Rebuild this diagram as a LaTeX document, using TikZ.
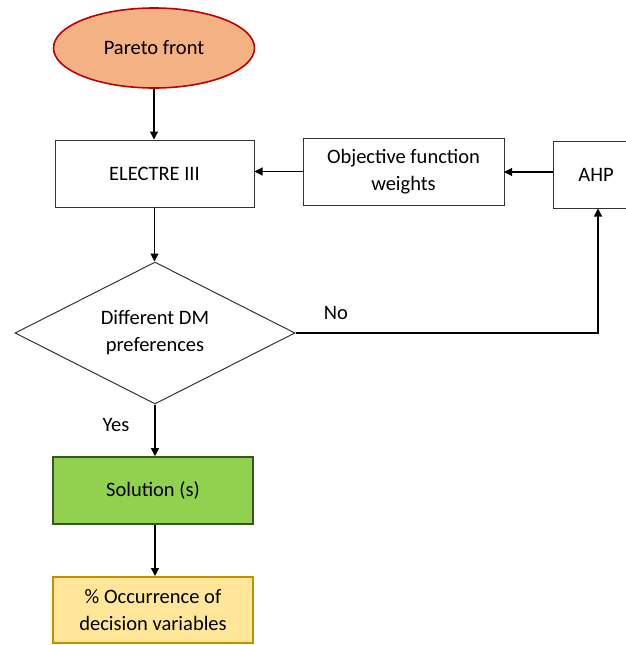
\documentclass[tikz,border=0pt]{standalone}
\usepackage{fontspec}
\setmainfont{Carlito}
\usetikzlibrary{shapes.geometric,arrows.meta}
\definecolor{peach}{HTML}{F4B183}
\definecolor{redline}{HTML}{C00000}
\definecolor{greenfill}{HTML}{92D050}
\definecolor{greenline}{HTML}{375623}
\definecolor{yellowfill}{HTML}{FFE699}
\definecolor{yellowline}{HTML}{BF9000}
\tikzset{
  txt/.style={font=\fontsize{20.5}{27}\selectfont},
  box/.style={txt, draw=black!80, line width=1pt, rectangle, minimum height=67pt, align=center, inner sep=0pt},
  conn/.style={line width=1.1pt, -{Triangle[length=8pt,width=8pt]}},
  lbl/.style={txt, inner sep=0pt}
}
\begin{document}
\begin{tikzpicture}[x=1pt,y=-1pt]
\useasboundingbox (0,0) rectangle (626,645);
\begin{scope}
\clip (0,0) rectangle (626,645);
\node[txt, ellipse, draw=redline, fill=peach, line width=1.6pt, minimum width=201pt, minimum height=80pt, inner sep=0pt] (pareto) at (154,48) {Pareto front};
\node[box, minimum width=199pt] (electre) at (154.5,173.5) {ELECTRE III};
\node[box, minimum width=201pt] (obj) at (403.5,171.5) {Objective function\\weights};
\node[box, minimum width=88pt, anchor=west] (ahp) at (553,174.5) {};
\node[lbl] (ahptext) at (596,174.5) {AHP};
\node[txt, diamond, draw=black!80, line width=1pt, minimum width=280pt, minimum height=142pt, inner sep=0pt, aspect=2, align=center] (dm) at (155,333) {Different DM\\preferences};
\node[box, fill=greenfill, draw=greenline, line width=1.6pt, minimum width=200pt] (sol) at (153,490.5) {Solution (s)};
\node[box, fill=yellowfill, draw=yellowline, line width=2pt, minimum width=200pt, minimum height=66pt] (occ) at (153,610) {\% Occurrence of\\decision variables};
\coordinate (corner) at (598,333);
\end{scope}
\node[lbl] (no) at (336,313) {No};
\node[lbl] (yes) at (116,425) {Yes};
\draw[conn] (pareto.south) -- (pareto.south |- electre.north);
\draw[conn] (electre.south) -- (electre.south |- dm.north);
\draw[conn] (dm.south) -- (dm.south |- sol.north);
\draw[conn] (dm.south |- sol.south) -- (dm.south |- occ.north);
\draw[conn] (obj.west) -- (obj.west -| electre.east);
\draw[conn] (ahp.west |- obj.east) ++(0,0.5) -- ++(-49,0);
\draw[conn] (dm.east) -- (corner) -- (corner |- ahp.south);
\end{tikzpicture}
\end{document}
